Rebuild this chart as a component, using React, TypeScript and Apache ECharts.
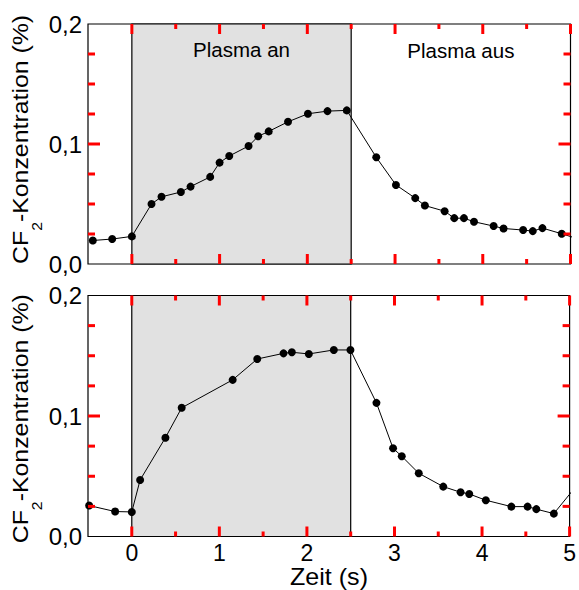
import React, { useEffect, useRef } from "react";
import * as echarts from "echarts";

const topTime = [-0.445, -0.224, 0, 0.224, 0.338, 0.559, 0.669, 0.893, 1.0, 1.11, 1.33, 1.44, 1.56, 1.78, 2.007, 2.23, 2.45, 2.786, 3.01, 3.23, 3.34, 3.565, 3.675, 3.785, 3.9, 4.124, 4.237, 4.46, 4.57, 4.68, 4.9, 5.1];
const topConc = [0.0196, 0.0208, 0.023, 0.05, 0.056, 0.06, 0.0645, 0.0726, 0.0845, 0.09, 0.0983, 0.1064, 0.1105, 0.1185, 0.1252, 0.1274, 0.128, 0.0889, 0.0659, 0.0549, 0.0487, 0.044, 0.0382, 0.0382, 0.0352, 0.0316, 0.0296, 0.0283, 0.0274, 0.0299, 0.0252, 0.0206];

const botTime = [-0.487, -0.19, 0, 0.095, 0.384, 0.57, 1.152, 1.433, 1.733, 1.828, 2.022, 2.307, 2.497, 2.794, 2.984, 3.083, 3.277, 3.557, 3.755, 3.854, 4.043, 4.335, 4.52, 4.62, 4.82, 5.1];
const botConc = [0.0257, 0.0207, 0.0204, 0.0469, 0.082, 0.1068, 0.13, 0.1473, 0.152, 0.1529, 0.1515, 0.1548, 0.1548, 0.1109, 0.0732, 0.0666, 0.0525, 0.0414, 0.0367, 0.0353, 0.0301, 0.0248, 0.0248, 0.0227, 0.019, 0.044];

const majorX = [0, 1, 2, 3, 4, 5];
const minorX = [0.5, 1.5, 2.5, 3.5, 4.5];
const majorY = [0.1];
const minorY = [0.025, 0.05, 0.075, 0.125, 0.15, 0.175];
const plasmaOn = [0, 2.5];
const plasmaOff = [2.5, 5];
const regionLabels = ["Plasma an", "Plasma aus"];
const yTitleParts = ["CF", "2", "-Konzentration (%)"];
const xTitle = "Zeit (s)";

const X_MIN = -0.5;
const X_MAX = 5;
const Y_MIN = 0;
const Y_MAX = 0.2;

const FONT = "'Liberation Sans', Arial, Helvetica, sans-serif";
const GRID_LEFT = 88;
const GRID_W = 482.5;
const GRIDS = [
  { top: 24, height: 240 },
  { top: 295.5, height: 241 },
];
const TICK_COLOR = "#ff0000";
const TICK_WIDTH = 3;

function xAxis(grid: number, labels: boolean) {
  return {
    type: "value",
    gridIndex: grid,
    position: "bottom",
    min: X_MIN,
    max: X_MAX,
    interval: 0.5,
    splitLine: { show: false },
    axisLine: { show: false, onZero: false },
    axisTick: { show: false },
    axisLabel: {
      show: labels,
      customValues: majorX,
      margin: 5,
      fontSize: 23,
      color: "#000",
      fontFamily: FONT,
      formatter: (v: number) => String(v),
    },
  };
}

function yAxis(grid: number) {
  return {
    type: "value",
    gridIndex: grid,
    position: "left",
    min: Y_MIN,
    max: Y_MAX,
    interval: 0.1,
    splitLine: { show: false },
    axisLine: { show: false, onZero: false },
    axisTick: { show: false },
    axisLabel: {
      show: true,
      margin: 6,
      fontSize: 24,
      color: "#000",
      fontFamily: FONT,
      formatter: (v: number) => v.toFixed(1).replace(".", ","),
    },
  };
}

function xTickSeries(grid: number, values: number[], len: number) {
  return {
    type: "custom",
    xAxisIndex: grid,
    yAxisIndex: grid,
    silent: true,
    z: 5,
    clip: false,
    data: values.map((v) => [v, Y_MIN]),
    renderItem: (params: any, api: any) => {
      const v = api.value(0);
      const b = api.coord([v, Y_MIN]);
      const t = api.coord([v, Y_MAX]);
      return {
        type: "group",
        children: [
          { type: "line", shape: { x1: b[0], y1: b[1], x2: b[0], y2: b[1] - len }, style: { stroke: TICK_COLOR, lineWidth: TICK_WIDTH } },
          { type: "line", shape: { x1: t[0], y1: t[1], x2: t[0], y2: t[1] + len }, style: { stroke: TICK_COLOR, lineWidth: TICK_WIDTH } },
        ],
      };
    },
  };
}

function yTickSeries(grid: number, values: number[], len: number) {
  return {
    type: "custom",
    xAxisIndex: grid,
    yAxisIndex: grid,
    silent: true,
    z: 5,
    clip: false,
    data: values.map((v) => [X_MIN, v]),
    renderItem: (params: any, api: any) => {
      const v = api.value(1);
      const l = api.coord([X_MIN, v]);
      const r = api.coord([X_MAX, v]);
      return {
        type: "group",
        children: [
          { type: "line", shape: { x1: l[0], y1: l[1], x2: l[0] + len, y2: l[1] }, style: { stroke: TICK_COLOR, lineWidth: TICK_WIDTH } },
          { type: "line", shape: { x1: r[0], y1: r[1], x2: r[0] - len, y2: r[1] }, style: { stroke: TICK_COLOR, lineWidth: TICK_WIDTH } },
        ],
      };
    },
  };
}

function titleGraphics(startY: number) {
  const fs = 22;
  const sub = 14;
  const sx = 1.13;
  const wCF = 1.333 * fs * sx;
  const wSub = 0.556 * sub * sx;
  const mk = (text: string, x: number, y: number, size: number) => ({
    type: "text",
    x,
    y,
    rotation: Math.PI / 2,
    scaleX: sx,
    style: { text, fontSize: size, fontFamily: FONT, fill: "#000", align: "left", verticalAlign: "middle" },
  });
  return [
    mk(yTitleParts[0], 20.4, startY, fs),
    mk(yTitleParts[1], 36.8, startY - wCF, sub),
    mk(yTitleParts[2], 20.4, startY - wCF - wSub, fs),
  ];
}

const shade = { color: "#e1e1e1", borderColor: "#000", borderWidth: 1.2 };
const regionLabel = (text: string) => ({
  show: true,
  position: "insideTop",
  distance: 16,
  formatter: text,
  fontSize: 20.5,
  color: "#000",
  fontFamily: FONT,
});

function dataSeries(grid: number, time: number[], conc: number[], markData: any[]) {
  return {
    type: "line",
    xAxisIndex: grid,
    yAxisIndex: grid,
    z: 3,
    data: time.map((t, i) => [t, conc[i]]),
    symbol: "circle",
    symbolSize: 8,
    itemStyle: { color: "#000" },
    lineStyle: { color: "#000", width: 1 },
    clip: true,
    markArea: { silent: true, data: markData },
  };
}

export default function App() {
  const ref = useRef<HTMLDivElement>(null);
  useEffect(() => {
    if (!ref.current) return;
    const chart = echarts.init(ref.current, undefined, { renderer: "svg" });
    const option: any = {
      animation: false,
      grid: GRIDS.map((g) => ({
        left: GRID_LEFT,
        top: g.top,
        width: GRID_W,
        height: g.height,
        show: true,
        borderColor: "#000",
        borderWidth: 1.2,
        backgroundColor: "rgba(0,0,0,0)",
      })),
      xAxis: [xAxis(0, false), xAxis(1, true)],
      yAxis: [yAxis(0), yAxis(1)],
      series: [
        dataSeries(0, topTime, topConc, [
          [{ xAxis: plasmaOn[0], itemStyle: shade, label: regionLabel(regionLabels[0]) }, { xAxis: plasmaOn[1] }],
          [
            { xAxis: plasmaOff[0], itemStyle: { color: "rgba(0,0,0,0)", borderWidth: 0 }, label: regionLabel(regionLabels[1]) },
            { xAxis: plasmaOff[1] },
          ],
        ]),
        dataSeries(1, botTime, botConc, [[{ xAxis: plasmaOn[0], itemStyle: shade }, { xAxis: plasmaOn[1] }]]),
        xTickSeries(0, majorX, 10),
        xTickSeries(0, minorX, 5),
        yTickSeries(0, majorY, 12),
        yTickSeries(0, minorY, 7),
        xTickSeries(1, majorX, 10),
        xTickSeries(1, minorX, 5),
        yTickSeries(1, majorY, 12),
        yTickSeries(1, minorY, 7),
      ],
      graphic: [
        ...titleGraphics(264),
        ...titleGraphics(543.3),
        {
          type: "text",
          x: 329,
          y: 576.5,
          scaleX: 1.09,
          style: { text: xTitle, align: "center", verticalAlign: "middle", fontSize: 23, fontFamily: FONT, fill: "#000" },
        },
      ],
    };
    chart.setOption(option);
    return () => chart.dispose();
  }, []);
  return <div ref={ref} style={{ position: "fixed", left: 0, top: 0, width: 579, height: 590, background: "#fff" }} />;
}
